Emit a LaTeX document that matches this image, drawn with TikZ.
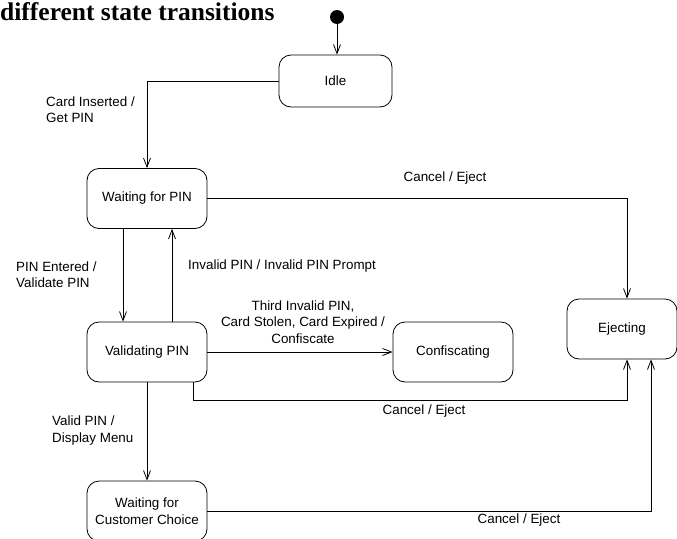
\documentclass[tikz,border=0pt]{standalone}
\usepackage{fontspec}
\setmainfont{Liberation Sans}
\newfontfamily\titlefont{Liberation Serif}
\usetikzlibrary{arrows.meta}

\begin{document}
\begin{tikzpicture}[x=1pt, y=-1pt,
  every node/.style={font=\fontsize{13.4}{16.5}\selectfont},
  state/.style={draw, line width=0.8pt, rounded corners=12pt, minimum height=60pt, align=center, inner sep=0pt},
  trans/.style={line width=0.8pt, -{Straight Barb[length=9pt,width=7pt]}},
  lbl/.style={align=left, inner sep=0pt, anchor=west}]
\useasboundingbox (0,0) rectangle (677,538);
\node[anchor=base west, inner sep=0pt, font=\titlefont\fontsize{25.5}{26}\selectfont\bfseries] (title) at (0,20) {different state transitions};
% states
\node[circle, fill, inner sep=0pt, minimum size=14pt] (init) at (337,17) {};
\node[state, minimum width=113pt, minimum height=52pt] (idle) at (335.5,81) {Idle};
\node[state, minimum width=120pt] (wpin) at (147,198.5) {Waiting for PIN};
\node[state, minimum width=120pt] (vpin) at (147,352) {Validating PIN};
\node[state, minimum width=120pt] (conf) at (453,352) {Confiscating};
\node[state, minimum width=110pt] (eject) at (622,329) {Ejecting};
\node[state, minimum width=120pt] (wcc) at (147,511) {Waiting for\\Customer Choice};
% transitions
\draw[trans] (init) -- (init |- idle.north);
\draw[trans] (idle.west) -| (wpin.north);
\draw[trans] ([xshift=-24pt]wpin.south) -- ([xshift=-24pt]vpin.north);
\draw[trans] ([xshift=25pt]vpin.north) -- ([xshift=25pt]wpin.south);
\draw[trans] (vpin.east) -- (conf.west);
\draw[trans] (wpin.east) -| ([xshift=5pt]eject.north);
\draw[trans] ([xshift=46pt]vpin.south) -- ++(0,18) -| ([xshift=5pt]eject.south);
\draw[trans] (vpin.south) -- (wcc.north);
\draw[trans] (wcc.east) -| ([xshift=29pt]eject.south);
% labels
\node[lbl] (lcard) at (46,109.5) {Card Inserted /\\Get PIN};
\node[lbl] (lentered) at (16,274.5) {PIN Entered /\\Validate PIN};
\node[lbl] (linvalid) at (188,266) {Invalid PIN / Invalid PIN Prompt};
\node[align=center, inner sep=0pt] (lthird) at (303,322) {Third Invalid PIN,\\Card Stolen, Card Expired /\\Confiscate};
\node[lbl] (lvalid) at (52,430.5) {Valid PIN /\\Display Menu};
\node[inner sep=0pt] (lcancela) at (445,178) {Cancel / Eject};
\node[inner sep=0pt] (lcancelb) at (424,411) {Cancel / Eject};
\node[inner sep=0pt] (lcancelc) at (519,520) {Cancel / Eject};
\end{tikzpicture}
\end{document}
